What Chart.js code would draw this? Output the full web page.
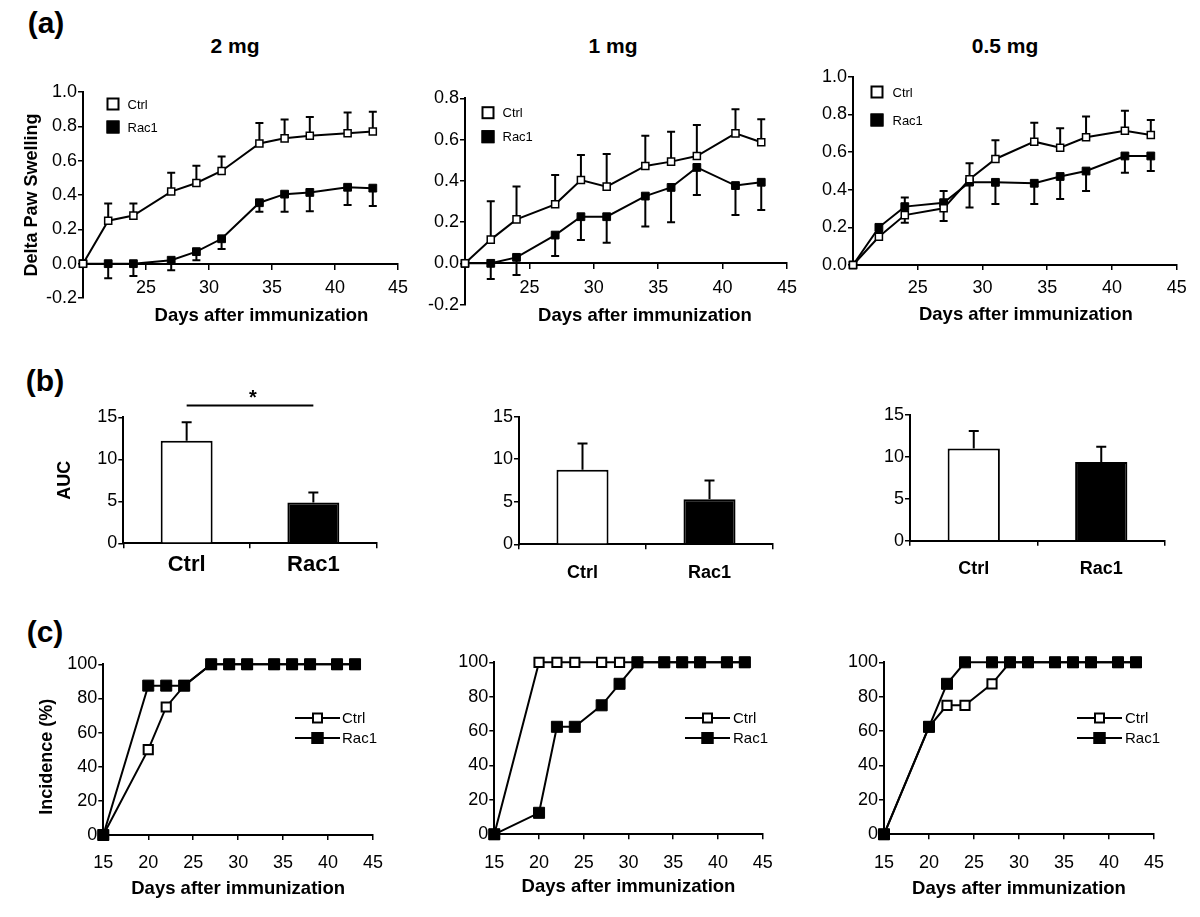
<!DOCTYPE html>
<html>
<head>
<meta charset="utf-8">
<title>Paw swelling, AUC and incidence</title>
<script src="https://cdn.jsdelivr.net/npm/chart.js@4.4.1/dist/chart.umd.min.js"></script>
<style>
html,body{margin:0;padding:0;background:#fff;}
body{width:1200px;height:917px;position:relative;overflow:hidden;font-family:"Liberation Sans",Arial,Helvetica,sans-serif;}
canvas{position:absolute;}
.lbl{position:absolute;transform:translate(-50%,-50%);font-weight:bold;color:#000;white-space:nowrap;line-height:1;}
</style>
</head>
<body>
<div class="lbl" style="left:46px;top:23px;font-size:30px;">(a)</div>
<div class="lbl" style="left:45px;top:381px;font-size:30px;">(b)</div>
<div class="lbl" style="left:45px;top:632px;font-size:30px;">(c)</div>
<div class="lbl" style="left:235px;top:45px;font-size:21px;">2 mg</div>
<div class="lbl" style="left:613px;top:45px;font-size:21px;">1 mg</div>
<div class="lbl" style="left:1005px;top:45px;font-size:21px;">0.5 mg</div>
<script>
// ---------------- DATA ----------------
const groups = ['Ctrl', 'Rac1'];

// (a) delta paw swelling
const swellDays = [20, 22, 24, 27, 29, 31, 34, 36, 38, 41, 43];
const ctrl2mg    = [0, 0.25, 0.28, 0.42, 0.47, 0.54, 0.70, 0.73, 0.745, 0.76, 0.77];
const ctrl2mgErr = [0, 0.10, 0.07, 0.11, 0.10, 0.085, 0.12, 0.11, 0.11, 0.12, 0.115];
const rac2mg     = [0, 0, 0, 0.02, 0.07, 0.145, 0.355, 0.405, 0.415, 0.445, 0.44];
const rac2mgErr  = [0, 0.085, 0.072, 0.058, 0.05, 0.06, 0.053, 0.103, 0.109, 0.103, 0.104];

const ctrl1mg    = [0, 0.115, 0.213, 0.286, 0.404, 0.372, 0.472, 0.493, 0.52, 0.63, 0.587];
const ctrl1mgErr = [0, 0.186, 0.159, 0.142, 0.121, 0.158, 0.147, 0.145, 0.151, 0.117, 0.111];
const rac1mg     = [0, 0, 0.029, 0.137, 0.226, 0.226, 0.326, 0.368, 0.465, 0.377, 0.393];
const rac1mgErr  = [0, 0.076, 0.086, 0.101, 0.113, 0.126, 0.148, 0.169, 0.134, 0.143, 0.134];

const ctrl05mg    = [0, 0.15, 0.265, 0.301, 0.455, 0.563, 0.655, 0.623, 0.678, 0.713, 0.69];
const ctrl05mgErr = [0, 0.02, 0.094, 0.092, 0.085, 0.10, 0.10, 0.103, 0.11, 0.106, 0.08];
const rac05mg     = [0, 0.2, 0.31, 0.331, 0.44, 0.439, 0.434, 0.47, 0.499, 0.579, 0.579];
const rac05mgErr  = [0, 0.02, 0.085, 0.097, 0.135, 0.115, 0.11, 0.12, 0.106, 0.089, 0.08];

const swellXTicks = [25, 30, 35, 40, 45];
const swellYTicks2mg = [-0.2, 0, 0.2, 0.4, 0.6, 0.8, 1.0];
const swellYTicks1mg = [-0.2, 0, 0.2, 0.4, 0.6, 0.8];
const swellYTicks05mg = [0, 0.2, 0.4, 0.6, 0.8, 1.0];

// (b) AUC
const auc2mg = [12.2, 4.85];
const auc2mgErr = [2.2, 1.2];
const auc1mg = [8.75, 5.3];
const auc1mgErr = [3.1, 2.2];
const auc05mg = [11.0, 9.4];
const auc05mgErr = [2.1, 1.8];
const aucYTicks = [0, 5, 10, 15];
const sig2mg = [{from: 0, to: 1, value: 16.4, text: '*'}];

// (c) incidence
const incDays = [15, 20, 22, 24, 27, 29, 31, 34, 36, 38, 41, 43];
const incCtrl2mg  = [0, 50, 75, 87.5, 100, 100, 100, 100, 100, 100, 100, 100];
const incRac2mg   = [0, 87.5, 87.5, 87.5, 100, 100, 100, 100, 100, 100, 100, 100];
const incCtrl1mg  = [0, 100, 100, 100, 100, 100, 100, 100, 100, 100, 100, 100];
const incRac1mg   = [0, 12.5, 62.5, 62.5, 75, 87.5, 100, 100, 100, 100, 100, 100];
const incCtrl05mg = [0, 62.5, 75, 75, 87.5, 100, 100, 100, 100, 100, 100, 100];
const incRac05mg  = [0, 62.5, 87.5, 100, 100, 100, 100, 100, 100, 100, 100, 100];
const incXTicks = [15, 20, 25, 30, 35, 40, 45];
const incYTicks = [0, 20, 40, 60, 80, 100];

// ---------------- HELPERS ----------------
const FONT = '"Liberation Sans", Arial, Helvetica, sans-serif';
const BLACK = '#000';
Chart.defaults.font.family = FONT;
Chart.defaults.color = BLACK;

function addCanvas(rect) {
  const c = document.createElement('canvas');
  c.width = rect.w; c.height = rect.h;
  Object.assign(c.style, {left: rect.x + 'px', top: rect.y + 'px', width: rect.w + 'px', height: rect.h + 'px'});
  document.body.appendChild(c);
  return c;
}

const errorBars = {
  id: 'errorBars',
  beforeDatasetsDraw(chart, args, opts) {
    const ctx = chart.ctx;
    chart.data.datasets.forEach((ds, i) => {
      if (!ds.errors) return;
      const meta = chart.getDatasetMeta(i);
      const ys = chart.scales[meta.yAxisID];
      const cap = opts.cap || 8;
      ctx.save();
      ctx.strokeStyle = BLACK;
      ctx.lineWidth = opts.width || 2;
      meta.data.forEach((el, j) => {
        const e = ds.errors[j];
        if (!e) return;
        const p = meta.controller.getParsed(j);
        const y0 = ys.getPixelForValue(p.y);
        const y1 = ys.getPixelForValue(p.y + (ds.errorDir || 1) * e);
        ctx.beginPath();
        ctx.moveTo(el.x, y0); ctx.lineTo(el.x, y1);
        ctx.moveTo(el.x - cap / 2, y1); ctx.lineTo(el.x + cap / 2, y1);
        ctx.stroke();
      });
      ctx.restore();
    });
  }
};

const sigBar = {
  id: 'sigBar',
  afterDraw(chart, args, opts) {
    if (!opts || !opts.pairs) return;
    const ctx = chart.ctx, xs = chart.scales.x, ys = chart.scales.y;
    opts.pairs.forEach(p => {
      const x1 = xs.getPixelForValue(p.from), x2 = xs.getPixelForValue(p.to);
      const y = ys.getPixelForValue(p.value);
      ctx.save();
      ctx.strokeStyle = BLACK; ctx.lineWidth = 2;
      ctx.beginPath(); ctx.moveTo(x1, y); ctx.lineTo(x2, y); ctx.stroke();
      ctx.fillStyle = BLACK;
      ctx.font = 'bold 20px ' + FONT;
      ctx.textAlign = 'center'; ctx.textBaseline = 'alphabetic';
      ctx.fillText(p.text, (x1 + x2) / 2 + 3, y - 2);
      ctx.restore();
    });
  }
};

const insetLegend = {
  id: 'insetLegend',
  afterDraw(chart, args, o) {
    if (!o || o.mode === undefined) return;
    const ctx = chart.ctx, area = chart.chartArea;
    ctx.save();
    chart.data.datasets.forEach((ds, i) => {
      const cy = area.top + o.y + i * o.dy;
      const fill = ds.pointBackgroundColor;
      ctx.strokeStyle = BLACK; ctx.fillStyle = fill;
      let tx;
      if (o.mode === 'box') {
        const cx = area.left + o.x, s = o.size;
        ctx.fillStyle = fill;
        ctx.fillRect(cx - s / 2, cy - s / 2, s, s);
        ctx.lineWidth = 2;
        ctx.strokeRect(cx - s / 2 + 1, cy - s / 2 + 1, s - 2, s - 2);
        tx = cx + s / 2 + o.gap;
      } else {
        const x0 = area.left + o.x, s = (fill === '#fff' ? o.size - 1 : o.size);
        ctx.lineWidth = 2;
        ctx.beginPath(); ctx.moveTo(x0, cy); ctx.lineTo(x0 + o.lineLen, cy); ctx.stroke();
        const cx = x0 + o.lineLen / 2;
        ctx.fillStyle = fill;
        ctx.fillRect(cx - s / 2, cy - s / 2, s, s);
        ctx.strokeRect(cx - s / 2 + 1, cy - s / 2 + 1, s - 2, s - 2);
        tx = x0 + o.lineLen + o.gap;
      }
      ctx.fillStyle = BLACK;
      ctx.font = o.fontSize + 'px ' + FONT;
      ctx.textAlign = 'left'; ctx.textBaseline = 'middle';
      ctx.fillText(ds.label, tx, cy + 1);
    });
    ctx.restore();
  }
};

const titleShift = {
  id: 'titleShift',
  beforeDraw(chart) {
    Object.values(chart.scales).forEach(s => {
      const dx = s.options.titleShiftX || 0, dy = s.options.titleShiftY || 0;
      if ((dx || dy) && !s._shiftWrapped) {
        const orig = s.drawTitle;
        s.drawTitle = function () {
          this.ctx.save(); this.ctx.translate(dx, dy); orig.call(this); this.ctx.restore();
        };
        s._shiftWrapped = true;
      }
    });
  }
};

function gridOpts(offset) {
  return {display: true, offset: !!offset, drawOnChartArea: false, drawTicks: true, tickLength: 5,
          tickWidth: 1.5, tickColor: BLACK, color: BLACK, lineWidth: 1.5};
}
const borderOpts = {display: true, color: BLACK, width: 2};

function yAxis(o) {
  return {
    type: 'linear', position: 'left', min: o.min, max: o.max,
    afterBuildTicks: s => { s.ticks = o.ticks.map(v => ({value: v})); },
    afterFit: s => { s.width = o.width; s.paddingTop = 0; s.paddingBottom = 0; },
    ticks: {color: BLACK, font: {family: FONT, size: 18}, padding: 1, callback: o.fmt},
    grid: gridOpts(false),
    border: borderOpts,
    title: o.title ? {display: true, text: o.title, color: BLACK,
                      font: {family: FONT, size: 18, weight: 'bold'}, padding: {top: o.titlePad, bottom: 0}}
                   : {display: false},
    titleShiftY: o.shiftY || 0
  };
}

function lineChart(s) {
  const canvas = addCanvas(s.rect);
  const H = s.rect.y + s.rect.h - s.area.b;
  const mk = (vals) => vals.map((v, i) => ({x: s.days[i], y: v}));
  const ds = [
    {label: groups[0], data: mk(s.ctrl), errors: s.ctrlErr, errorDir: 1,
     borderColor: BLACK, borderWidth: 2, tension: 0, fill: false, clip: false,
     pointStyle: 'rect', pointRadius: s.ctrlR, pointBorderWidth: s.ctrlBW,
     pointBackgroundColor: '#fff', pointBorderColor: BLACK, order: s.racTop ? 1 : 0},
    {label: groups[1], data: mk(s.rac), errors: s.racErr, errorDir: -1,
     borderColor: BLACK, borderWidth: 2, tension: 0, fill: false, clip: false,
     pointStyle: 'rect', pointRadius: s.racR, pointBorderWidth: 1,
     pointBackgroundColor: '#000', pointBorderColor: BLACK, order: s.racTop ? 0 : 1}
  ];
  // an axis placed at y = 0 takes no layout room, so its room is reserved as padding
  const padBottom = s.zero ? H : 0;
  return new Chart(canvas, {
    type: 'line',
    data: {datasets: ds},
    options: {
      responsive: false, animation: false, events: [],
      layout: {padding: {top: s.area.t - s.rect.y, right: s.rect.x + s.rect.w - s.area.r, left: 0, bottom: padBottom}},
      scales: {
        x: {
          type: 'linear', position: s.zero ? {y: 0} : 'bottom', min: s.xMin, max: s.xMax,
          afterBuildTicks: sc => { sc.ticks = s.xTicks.map(v => ({value: v})); },
          afterFit: sc => { sc.height = H; sc.paddingLeft = 0; sc.paddingRight = 0; },
          ticks: {color: BLACK, font: {family: FONT, size: 18}, padding: s.xTickPad, maxRotation: 0, autoSkip: false,
                  callback: v => String(v)},
          grid: gridOpts(false),
          border: borderOpts,
          title: {display: true, text: 'Days after immunization', color: BLACK,
                  font: {family: FONT, size: 18.5, weight: 'bold'}, padding: {top: 0, bottom: s.xTitlePB}},
          titleShiftX: s.shiftX || 0
        },
        y: yAxis({min: s.yMin, max: s.yMax, ticks: s.yTicks, fmt: s.yFmt, width: s.area.l - s.rect.x,
                  title: s.yTitle, titlePad: s.yTitlePad, shiftY: s.yShift})
      },
      plugins: {
        legend: {display: false}, tooltip: {enabled: false},
        errorBars: {cap: 8, width: 2},
        insetLegend: s.legend
      }
    },
    plugins: [errorBars, insetLegend, titleShift]
  });
}

function barChart(s) {
  const canvas = addCanvas(s.rect);
  const H = s.rect.y + s.rect.h - s.area.b;
  return new Chart(canvas, {
    type: 'bar',
    data: {
      labels: groups,
      datasets: [{label: 'AUC', data: s.values, errors: s.errs, errorDir: 1,
                  backgroundColor: ['#fff', '#000'], borderColor: BLACK, borderWidth: 2,
                  barPercentage: 0.41, categoryPercentage: 1}]
    },
    options: {
      responsive: false, animation: false, events: [],
      layout: {padding: {top: s.area.t - s.rect.y, right: s.rect.x + s.rect.w - s.area.r, left: 0, bottom: 0}},
      scales: {
        x: {
          type: 'category', position: 'bottom', offset: true,
          afterFit: sc => { sc.height = H; sc.paddingLeft = 0; sc.paddingRight = 0; },
          ticks: {color: BLACK, font: {family: FONT, size: s.labelSize, weight: 'bold'}, padding: s.labelPad,
                  maxRotation: 0, autoSkip: false},
          grid: gridOpts(true),
          border: borderOpts
        },
        y: yAxis({min: 0, max: 15, ticks: aucYTicks, fmt: v => String(v), width: s.area.l - s.rect.x,
                  title: s.yTitle, titlePad: s.yTitlePad})
      },
      plugins: {
        legend: {display: false}, tooltip: {enabled: false},
        errorBars: {cap: 10, width: 2},
        sigBar: s.sig ? {pairs: s.sig} : {}
      }
    },
    plugins: [errorBars, sigBar]
  });
}

const fmt1 = v => Number(v).toFixed(1);
const fmt0 = v => String(v);

// ---------------- ROW (a) ----------------
lineChart({rect: {x: 0, y: 60, w: 420, h: 301}, area: {l: 83, t: 92, r: 398, b: 298},
  zero: true, days: swellDays, xMin: 20, xMax: 45, xTicks: swellXTicks, xTickPad: 9, xTitlePB: 0, shiftX: 21,
  yMin: -0.2, yMax: 1.0, yTicks: swellYTicks2mg, yFmt: fmt1, yTitle: 'Delta Paw Swelling', yTitlePad: 21,
  ctrl: ctrl2mg, ctrlErr: ctrl2mgErr, rac: rac2mg, racErr: rac2mgErr,
  ctrlR: 5, ctrlBW: 1.5, racR: 5.5, racTop: false,
  legend: {mode: 'box', x: 30, y: 12, dy: 23, size: 13, gap: 8, fontSize: 13}});

lineChart({rect: {x: 400, y: 60, w: 410, h: 308}, area: {l: 465, t: 98.3, r: 787, b: 304.6},
  zero: true, days: swellDays, xMin: 20, xMax: 45, xTicks: swellXTicks, xTickPad: 9, xTitlePB: 0, shiftX: 19,
  yMin: -0.2, yMax: 0.8, yTicks: swellYTicks1mg, yFmt: fmt1,
  ctrl: ctrl1mg, ctrlErr: ctrl1mgErr, rac: rac1mg, racErr: rac1mgErr,
  ctrlR: 5, ctrlBW: 1.5, racR: 5.5, racTop: false,
  legend: {mode: 'box', x: 23, y: 14.4, dy: 24, size: 13, gap: 8, fontSize: 13}});

lineChart({rect: {x: 800, y: 50, w: 400, h: 276}, area: {l: 853, t: 76.7, r: 1176.7, b: 265},
  zero: false, days: swellDays, xMin: 20, xMax: 45, xTicks: swellXTicks, xTickPad: 7, xTitlePB: 0, shiftX: 11,
  yMin: 0, yMax: 1.0, yTicks: swellYTicks05mg, yFmt: fmt1,
  ctrl: ctrl05mg, ctrlErr: ctrl05mgErr, rac: rac05mg, racErr: rac05mgErr,
  ctrlR: 5, ctrlBW: 1.5, racR: 5.5, racTop: false,
  legend: {mode: 'box', x: 24, y: 15.3, dy: 28, size: 13, gap: 9, fontSize: 13}});

// ---------------- ROW (b) ----------------
barChart({rect: {x: 0, y: 380, w: 400, h: 210}, area: {l: 123.3, t: 417.3, r: 376.7, b: 543.3},
  values: auc2mg, errs: auc2mgErr, labelSize: 22, labelPad: 3.5, yTitle: 'AUC', yTitlePad: 54, sig: sig2mg});
barChart({rect: {x: 420, y: 380, w: 380, h: 210}, area: {l: 519, t: 416.7, r: 773, b: 544.3},
  values: auc1mg, errs: auc1mgErr, labelSize: 18, labelPad: 12.6});
barChart({rect: {x: 820, y: 380, w: 380, h: 210}, area: {l: 910, t: 415, r: 1165, b: 540.7},
  values: auc05mg, errs: auc05mgErr, labelSize: 18, labelPad: 12.5});

// ---------------- ROW (c) ----------------
lineChart({rect: {x: 0, y: 640, w: 400, h: 270}, area: {l: 103.3, t: 664.3, r: 373, b: 835},
  zero: false, days: incDays, xMin: 15, xMax: 45, xTicks: incXTicks, xTickPad: 12.5, xTitlePB: 9.9,
  yMin: 0, yMax: 100, yTicks: incYTicks, yFmt: fmt0, yTitle: 'Incidence (%)', yTitlePad: 36, yShift: 7,
  ctrl: incCtrl2mg, rac: incRac2mg, ctrlR: 6.5, ctrlBW: 2, racR: 7.8, racTop: true,
  legend: {mode: 'line', x: 191.7, y: 53.7, dy: 20, size: 12, lineLen: 45, gap: 2, fontSize: 15}});

lineChart({rect: {x: 420, y: 640, w: 380, h: 270}, area: {l: 494.3, t: 662.3, r: 762.7, b: 834.3},
  zero: false, days: incDays, xMin: 15, xMax: 45, xTicks: incXTicks, xTickPad: 13.2, xTitlePB: 12.2,
  yMin: 0, yMax: 100, yTicks: incYTicks, yFmt: fmt0,
  ctrl: incCtrl1mg, rac: incRac1mg, ctrlR: 6.5, ctrlBW: 2, racR: 7.8, racTop: true,
  legend: {mode: 'line', x: 190.7, y: 55.7, dy: 20, size: 12, lineLen: 45, gap: 3, fontSize: 15}});

lineChart({rect: {x: 820, y: 640, w: 380, h: 270}, area: {l: 884, t: 662.3, r: 1154, b: 834.3},
  zero: false, days: incDays, xMin: 15, xMax: 45, xTicks: incXTicks, xTickPad: 13.2, xTitlePB: 9.6,
  yMin: 0, yMax: 100, yTicks: incYTicks, yFmt: fmt0,
  ctrl: incCtrl05mg, rac: incRac05mg, ctrlR: 6.5, ctrlBW: 2, racR: 7.8, racTop: true,
  legend: {mode: 'line', x: 193, y: 55.7, dy: 20, size: 12, lineLen: 45, gap: 3, fontSize: 15}});
</script>
</body>
</html>
